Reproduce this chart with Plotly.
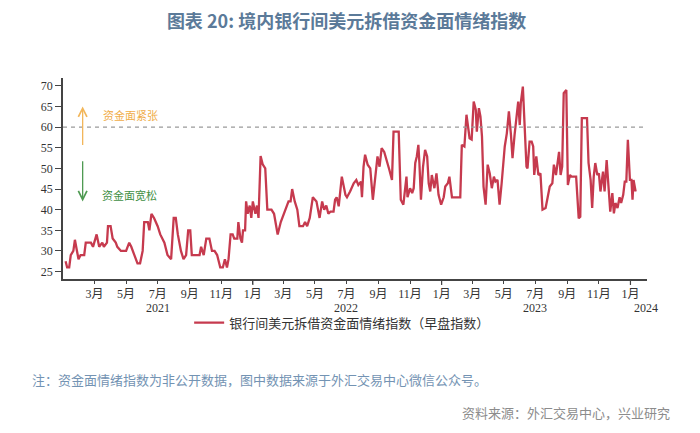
import plotly.graph_objects as go

# 早盘指数
dates = [
    "2021-01-04", "2021-01-07", "2021-01-11", "2021-01-14", "2021-01-19", "2021-01-22", "2021-01-26", "2021-01-29",
    "2021-02-02", "2021-02-09", "2021-02-12", "2021-02-22", "2021-02-26", "2021-03-05", "2021-03-10", "2021-03-16",
    "2021-03-19", "2021-03-25", "2021-03-27", "2021-04-01", "2021-04-05", "2021-04-11", "2021-04-14", "2021-04-21",
    "2021-04-26", "2021-05-01", "2021-05-07", "2021-05-11", "2021-05-17", "2021-05-23", "2021-05-28", "2021-06-02",
    "2021-06-05", "2021-06-12", "2021-06-15", "2021-06-19", "2021-06-24", "2021-07-01", "2021-07-06", "2021-07-14",
    "2021-07-20", "2021-07-27", "2021-08-01", "2021-08-05", "2021-08-09", "2021-08-15", "2021-08-20", "2021-08-25",
    "2021-08-29", "2021-09-02", "2021-09-05", "2021-09-10", "2021-09-20", "2021-09-23", "2021-09-28", "2021-10-03",
    "2021-10-09", "2021-10-14", "2021-10-19", "2021-10-24", "2021-10-30", "2021-11-04", "2021-11-08", "2021-11-12",
    "2021-11-15", "2021-11-19", "2021-11-23", "2021-11-26", "2021-12-02", "2021-12-04", "2021-12-08", "2021-12-11",
    "2021-12-13", "2021-12-17", "2021-12-19", "2021-12-22", "2021-12-26", "2021-12-29", "2022-01-01", "2022-01-06",
    "2022-01-09", "2022-01-12", "2022-01-16", "2022-01-20", "2022-01-25", "2022-01-29", "2022-02-06", "2022-02-11",
    "2022-02-15", "2022-02-18", "2022-02-24", "2022-03-02", "2022-03-07", "2022-03-11", "2022-03-15", "2022-03-18",
    "2022-03-23", "2022-03-28", "2022-04-01", "2022-04-08", "2022-04-12", "2022-04-16", "2022-04-21", "2022-04-27",
    "2022-05-04", "2022-05-10", "2022-05-15", "2022-05-19", "2022-05-23", "2022-05-27",
    "2022-05-31", "2022-06-06", "2022-06-09", "2022-06-12", "2022-06-16", "2022-06-22", "2022-06-29", "2022-07-02",
    "2022-07-08", "2022-07-15", "2022-07-20", "2022-07-24", "2022-07-29", "2022-07-31", "2022-08-03", "2022-08-06",
    "2022-08-11", "2022-08-16", "2022-08-21", "2022-08-26", "2022-08-30", "2022-09-03", "2022-09-07", "2022-09-12",
    "2022-09-17", "2022-09-22", "2022-09-27", "2022-09-30", "2022-10-06", "2022-10-10", "2022-10-14", "2022-10-19",
    "2022-10-25", "2022-10-27", "2022-11-01", "2022-11-05", "2022-11-08", "2022-11-11", "2022-11-14", "2022-11-17",
    "2022-11-19", "2022-11-22", "2022-11-26", "2022-11-30", "2022-12-04", "2022-12-07", "2022-12-10", "2022-12-13",
    "2022-12-18", "2022-12-22", "2022-12-26", "2022-12-31", "2023-01-05", "2023-01-08", "2023-01-13", "2023-01-16",
    "2023-01-21", "2023-01-27", "2023-02-03", "2023-02-06", "2023-02-09", "2023-02-14", "2023-02-18", "2023-02-21",
    "2023-02-24", "2023-02-28", "2023-03-04", "2023-03-08", "2023-03-10", "2023-03-14", "2023-03-17", "2023-03-20",
    "2023-03-23", "2023-03-27", "2023-03-31", "2023-04-04", "2023-04-08", "2023-04-12", "2023-04-15", "2023-04-19",
    "2023-04-23", "2023-04-27", "2023-04-30", "2023-05-03", "2023-05-07", "2023-05-11", "2023-05-15", "2023-05-18",
    "2023-05-22", "2023-05-25", "2023-05-29", "2023-06-01", "2023-06-03", "2023-06-07", "2023-06-10", "2023-06-14",
    "2023-06-16", "2023-06-20", "2023-06-24", "2023-06-27", "2023-06-29", "2023-07-03", "2023-07-07", "2023-07-11",
    "2023-07-15", "2023-07-21", "2023-07-25", "2023-07-29", "2023-08-03", "2023-08-06", "2023-08-10", "2023-08-13",
    "2023-08-16", "2023-08-19", "2023-08-22", "2023-08-25", "2023-08-30", "2023-09-02", "2023-09-06", "2023-09-09",
    "2023-09-13", "2023-09-18", "2023-09-23", "2023-09-26", "2023-09-29", "2023-10-06", "2023-10-09", "2023-10-12",
    "2023-10-16", "2023-10-19", "2023-10-22", "2023-10-25", "2023-10-29", "2023-11-01", "2023-11-04", "2023-11-09",
    "2023-11-12", "2023-11-16", "2023-11-20", "2023-11-23", "2023-11-27", "2023-11-30", "2023-12-03", "2023-12-07",
    "2023-12-11", "2023-12-14", "2023-12-18", "2023-12-21", "2023-12-24", "2023-12-27", "2023-12-31", "2024-01-03",
    "2024-01-05", "2024-01-07", "2024-01-11",
]
index_values = [
    27.5, 26, 26, 29, 30, 32.7, 30, 28,
    29, 29, 32, 32, 31, 34, 31, 32,
    31, 32, 36, 36, 33, 32, 31, 30,
    30, 30, 32, 31, 29, 27, 27, 30,
    37, 37, 35, 39, 38, 36, 34, 32,
    29, 28, 38, 38, 34, 30, 28, 29,
    35, 35, 29, 29, 29, 31, 29, 33,
    33, 30, 30, 29, 26, 26, 28, 26,
    28, 34, 34, 33, 33, 37, 33, 32,
    35, 35, 42, 39, 41, 38, 42, 39,
    41, 38, 53, 51, 50, 40, 40, 39,
    36, 34, 37, 39, 41, 42, 42, 45,
    42, 40, 36, 36, 37, 36, 38, 43,
    42, 38, 42, 40, 41, 39,
    39.5, 39.5, 42.4, 43, 40.8, 48, 43.6, 43,
    44.4, 46.4, 47.2, 46, 46.8, 43, 50.4, 53.3,
    50.9, 50, 42.4, 48.8, 52.9, 50.4, 54.9, 54,
    52, 49.6, 47.2, 58.9, 58.9, 58.9, 42.4, 41.2,
    48, 43, 45.2, 44, 45.2, 51.3, 52.9, 55.7,
    51.3, 42.4, 50.4, 54.5, 52.9, 46.4, 44.4, 48.4,
    45.2, 48.8, 43.6, 41.2, 43, 45.6, 46.4, 48,
    43, 43, 43, 43, 55.7, 55.3, 63, 60.5,
    57.3, 57, 66.2, 64.2, 58.9, 64.6, 62.6, 57.7,
    45.6, 41.2, 50.9, 48.8, 45.2, 48, 46.8, 47.2,
    41.2, 46.4, 52, 55.3, 58.5, 63.8, 58.1, 52.5,
    58.1, 62.2, 66.2, 60.5, 65.8, 69.8, 60.1, 50.4,
    50, 56.5, 56.5, 55.3, 48.4, 52.9, 48.4, 48.8,
    40, 40.4, 43, 45.6, 46.4, 50.9, 48.4, 52,
    54, 48.4, 50.4, 68.2, 69, 46, 48.4, 48,
    48, 48, 37.9, 38.3, 62.2, 62.2, 62.2, 51.3,
    47.2, 40.4, 48, 51.3, 48.4, 48.8, 44.4, 49.2,
    44.4, 52, 44, 39.5, 44, 39.1, 41.6, 40.4,
    43, 41.6, 43.6, 46.8, 46.8, 56.9, 47.2, 47.2,
    42.4, 47.2, 44.4,
]

tick_dates = [
    "2021-03-01", "2021-05-01", "2021-07-01", "2021-09-01", "2021-11-01",
    "2022-01-01", "2022-03-01", "2022-05-01", "2022-07-01", "2022-09-01", "2022-11-01",
    "2023-01-01", "2023-03-01", "2023-05-01", "2023-07-01", "2023-09-01", "2023-11-01",
    "2024-01-01",
]
tick_labels = ["3月", "5月", "7月", "9月", "11月",
               "1月", "3月", "5月", "7月", "9月", "11月",
               "1月", "3月", "5月", "7月", "9月", "11月",
               "1月"]
year_labels = ["2021", "2022", "2023", "2024"]
year_dates = ["2021-07-01", "2022-07-01", "2023-07-01", "2024-01-31"]

serif = "Liberation Serif, Noto Sans CJK SC, serif"
sans = "Noto Sans CJK SC, sans-serif"
axis_color = "#444444"

fig = go.Figure()
fig.add_trace(go.Scatter(
    x=dates, y=index_values, mode="lines", name="银行间美元拆借资金面情绪指数（早盘指数）",
    line=dict(color="#c63a4e", width=2.3)
))

# 60 threshold
fig.add_shape(type="line", xref="paper", x0=0, x1=1, y0=60, y1=60,
              line=dict(color="#9a9a9a", width=1.2, dash="4px,4px"))

# longer ticks at year starts
for td, tl in zip(tick_dates, tick_labels):
    if tl == "1月":
        fig.add_shape(type="line", xref="x", yref="paper", x0=td, x1=td, y0=0, y1=-0.03,
                      line=dict(color=axis_color, width=1.2))

# arrows + labels
fig.add_annotation(x="2021-02-06", y=65, ax="2021-02-06", ay=55.3, xref="x", yref="y",
                   axref="x", ayref="y", text="", showarrow=True, arrowhead=5,
                   arrowsize=1.3, arrowwidth=1.3, arrowcolor="#f2b65a")
fig.add_annotation(x="2021-02-06", y=42, ax="2021-02-06", ay=52.1, xref="x", yref="y",
                   axref="x", ayref="y", text="", showarrow=True, arrowhead=5,
                   arrowsize=1.3, arrowwidth=1.3, arrowcolor="#4f9a52")
fig.add_annotation(x="2021-03-14", y=62.7, xref="x", yref="y", text="资金面紧张", showarrow=False,
                   xanchor="left", yanchor="middle", font=dict(family=serif, size=11, color="#f0ad48"))
fig.add_annotation(x="2021-03-11", y=43.4, xref="x", yref="y", text="资金面宽松", showarrow=False,
                   xanchor="left", yanchor="middle", font=dict(family=serif, size=11, color="#3f8f44"))

# year labels under month ticks
for yl, yd in zip(year_labels, year_dates):
    fig.add_annotation(x=yd, y=-0.143, xref="x", yref="paper", text=yl, showarrow=False,
                       xanchor="center", yanchor="middle",
                       font=dict(family=serif, size=12, color="#333333"))

# notes
fig.add_annotation(x=-0.057, y=-0.50, xref="paper", yref="paper", xanchor="left", yanchor="middle",
                   text="注：资金面情绪指数为非公开数据，图中数据来源于外汇交易中心微信公众号。",
                   showarrow=False, font=dict(family=sans, size=13, color="#7393b3"))
fig.add_annotation(x=1.043, y=-0.664, xref="paper", yref="paper", xanchor="right", yanchor="middle",
                   text="资料来源：外汇交易中心，兴业研究",
                   showarrow=False, font=dict(family=sans, size=13, color="#8c8c8c"))

fig.update_xaxes(
    range=["2020-12-30", "2024-02-02"], tickmode="array", tickvals=tick_dates, ticktext=tick_labels,
    showgrid=False, zeroline=False, showline=True, linecolor=axis_color, linewidth=1.5,
    ticks="outside", ticklen=3, tickcolor=axis_color,
    tickfont=dict(family=serif, size=12, color="#333333")
)
fig.update_yaxes(
    range=[23.2, 71.9], tickmode="array", tickvals=list(range(25, 71, 5)),
    showgrid=False, zeroline=False, showline=True, linecolor=axis_color, linewidth=1.5,
    ticks="outside", ticklen=6, tickcolor=axis_color,
    tickfont=dict(family=serif, size=12, color="#333333")
)
# page body adds an 8px offset, margins compensate for it
fig.update_layout(
    width=700, height=433, plot_bgcolor="white", paper_bgcolor="white",
    margin=dict(l=55, r=61, t=70, b=162),
    title=dict(text="<b>图表 20: 境内银行间美元拆借资金面情绪指数</b>", x=0.4836, xanchor="center",
               y=0.969, yanchor="middle", font=dict(family=sans, size=18, color="#5b7a99")),
    showlegend=True,
    legend=dict(orientation="h", x=0.478, xanchor="center", y=-0.217, yanchor="middle",
                itemwidth=30, font=dict(family=serif, size=13, color="#333333"))
)

fig.write_html("out.html")
